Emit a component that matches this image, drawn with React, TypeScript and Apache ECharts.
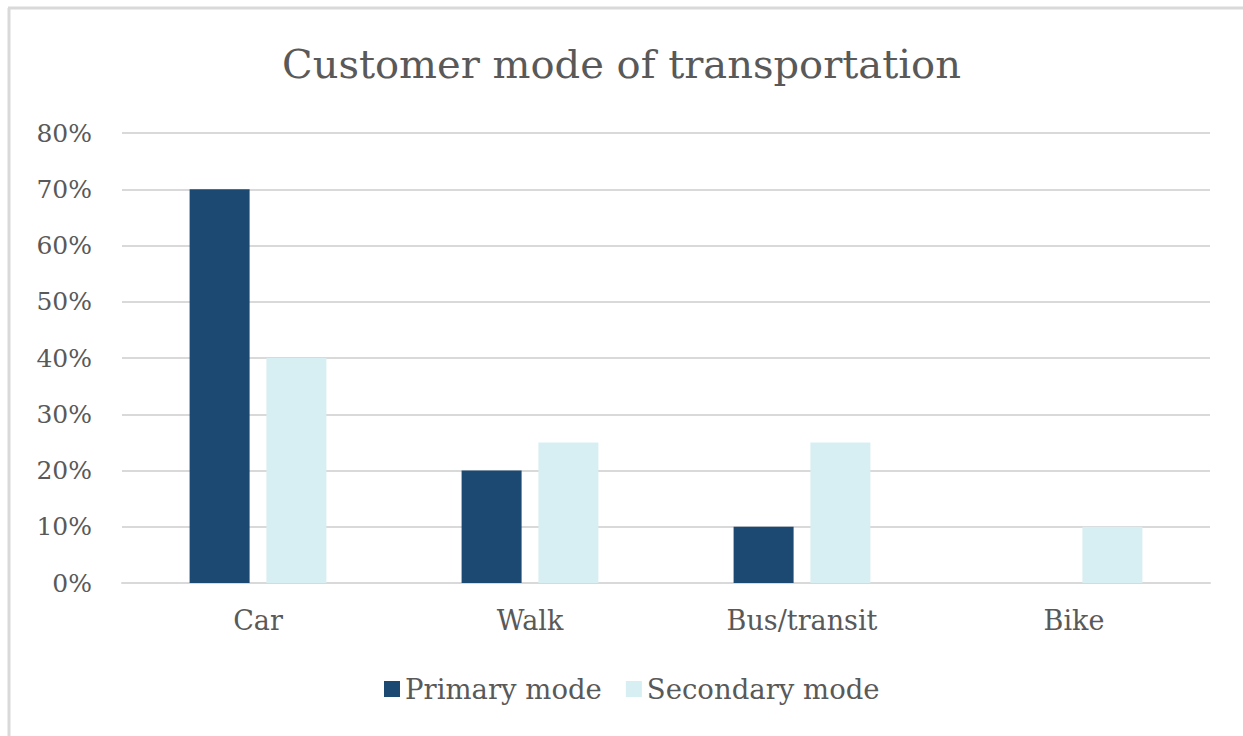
import React, { useEffect, useRef } from "react";
import * as echarts from "echarts";

const categories = ["Car", "Walk", "Bus/transit", "Bike"];
const primaryMode = [70, 20, 10, 0];
const secondaryMode = [40, 25, 25, 10];
const seriesNames = ["Primary mode", "Secondary mode"];
const titleText = "Customer mode of transportation";

const FONT = "DejaVu Serif";
const TEXT = "#595959";

export default function App() {
  const ref = useRef<HTMLDivElement>(null);
  useEffect(() => {
    if (!ref.current) return;
    const chart = echarts.init(ref.current, undefined, { renderer: "svg" });
    chart.setOption({
      animation: false,
      backgroundColor: "#ffffff",
      title: {
        text: titleText,
        left: "center",
        top: 39,
        textStyle: { fontFamily: FONT, fontSize: 40, fontWeight: "normal", color: TEXT },
      },
      legend: {
        data: seriesNames,
        bottom: 28,
        left: 379,
        itemWidth: 16,
        itemHeight: 16,
        itemGap: 24,
        icon: "rect",
        textStyle: { fontFamily: FONT, fontSize: 27.5, color: TEXT },
      },
      grid: { left: 122, right: 33, top: 133, bottom: 153, containLabel: false },
      xAxis: {
        type: "category",
        data: categories,
        axisLine: { show: true, lineStyle: { color: "#d9d9d9", width: 2 } },
        axisTick: { show: false },
        axisLabel: { fontFamily: FONT, fontSize: 27, color: TEXT, margin: 24 },
      },
      yAxis: {
        type: "value",
        min: 0,
        max: 80,
        interval: 10,
        axisLine: { show: false },
        axisTick: { show: false },
        splitLine: { lineStyle: { color: "#d9d9d9", width: 2 } },
        axisLabel: { fontFamily: FONT, fontSize: 25, color: TEXT, margin: 30, formatter: "{value}%" },
      },
      series: [
        {
          name: seriesNames[0],
          type: "bar",
          data: primaryMode,
          barWidth: 60,
          barGap: "28%",
          itemStyle: { color: "#1c4971" },
        },
        {
          name: seriesNames[1],
          type: "bar",
          data: secondaryMode,
          barWidth: 60,
          itemStyle: { color: "#d7eff2" },
        },
      ],
      graphic: [
        { type: "line", shape: { x1: 8, y1: 8, x2: 1243, y2: 8 }, style: { stroke: "#d9d9d9", lineWidth: 3 } },
        { type: "line", shape: { x1: 9, y1: 8, x2: 9, y2: 736 }, style: { stroke: "#d9d9d9", lineWidth: 3 } },
      ],
    });
    return () => chart.dispose();
  }, []);
  return (
    <div
      ref={ref}
      style={{ position: "fixed", left: 0, top: 0, width: 1243, height: 736 }}
    />
  );
}
